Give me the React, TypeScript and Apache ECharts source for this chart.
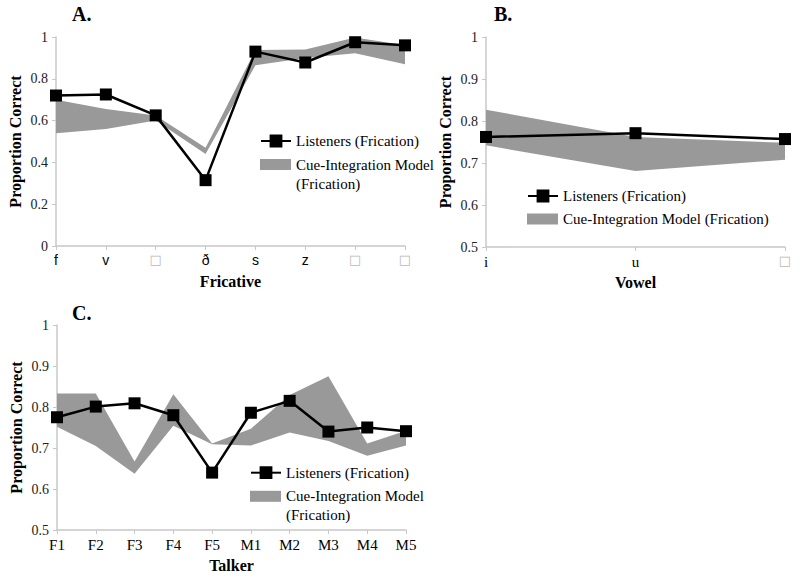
import React, { useEffect, useRef } from 'react';
import * as echarts from 'echarts';

// ---------- Data ----------
const fricatives = ['f', 'v', '□', 'ð', 's', 'z', '□', '□'];
const fricListeners = [0.72, 0.725, 0.625, 0.315, 0.93, 0.878, 0.975, 0.96];
const fricModelLow = [0.54, 0.56, 0.6, 0.44, 0.865, 0.9, 0.922, 0.87];
const fricModelHigh = [0.7, 0.655, 0.625, 0.47, 0.938, 0.94, 0.998, 0.96];

const vowels = ['i', 'u', '□'];
const vowelListeners = [0.762, 0.771, 0.757];
const vowelModelLow = [0.742, 0.681, 0.708];
const vowelModelHigh = [0.827, 0.762, 0.748];

const talkers = ['F1', 'F2', 'F3', 'F4', 'F5', 'M1', 'M2', 'M3', 'M4', 'M5'];
const talkerListeners = [0.775, 0.801, 0.809, 0.78, 0.64, 0.786, 0.815, 0.74, 0.75, 0.741];
const talkerModelLow = [0.752, 0.705, 0.637, 0.754, 0.709, 0.706, 0.738, 0.717, 0.681, 0.706];
const talkerModelHigh = [0.833, 0.833, 0.667, 0.831, 0.711, 0.747, 0.829, 0.875, 0.711, 0.742];

const panelTitles = ['A.', 'B.', 'C.'];
const xNames = ['Fricative', 'Vowel', 'Talker'];
const yName = 'Proportion Correct';
const listenersName = 'Listeners (Frication)';
const modelName = 'Cue-Integration Model (Frication)';

// ---------- Styles ----------
const SERIF = "'Liberation Serif', 'Times New Roman', serif";
const SANS = "'Liberation Sans', Arial, sans-serif";
const AXIS_COLOR = '#c8c8c8';
const BAND_COLOR = '#999999';

function xAxis(idx: number, data: string[], name: string, sans: boolean) {
  return {
    type: 'category',
    gridIndex: idx,
    data,
    boundaryGap: false,
    axisLine: { show: true, lineStyle: { color: AXIS_COLOR, width: 1.5 } },
    axisTick: { show: true, length: 4, interval: 0, lineStyle: { color: AXIS_COLOR } },
    axisLabel: {
      interval: 0,
      margin: 7,
      fontSize: sans ? 14 : 15,
      color: '#000',
      fontFamily: sans ? SANS : SERIF,
      formatter: (v: string) => (v === '□' ? '{box|□}' : v),
      rich: { box: { color: '#b8b8b8', fontFamily: "'DejaVu Sans'", fontSize: 13 } },
    },
    name,
    nameLocation: 'middle',
    nameGap: 27,
    nameTextStyle: { fontWeight: 'bold', fontSize: 16, fontFamily: SERIF, color: '#000' },
  };
}

function yAxis(idx: number, min: number, max: number, interval: number) {
  return {
    type: 'value',
    gridIndex: idx,
    min,
    max,
    interval,
    axisLine: { show: true, lineStyle: { color: AXIS_COLOR, width: 1.5 } },
    axisTick: { show: true, length: 4, lineStyle: { color: AXIS_COLOR } },
    splitLine: { show: false },
    axisLabel: { margin: 8, fontSize: 14, color: '#222', fontFamily: SERIF },
    name: yName,
    nameLocation: 'middle',
    nameGap: 33,
    nameTextStyle: { fontWeight: 'bold', fontSize: 16, fontFamily: SERIF, color: '#000' },
  };
}

function bandSeries(idx: number, low: number[], high: number[]) {
  return [
    {
      type: 'line',
      name: '_low' + idx,
      xAxisIndex: idx,
      yAxisIndex: idx,
      data: low,
      stack: 'band' + idx,
      symbol: 'none',
      silent: true,
      lineStyle: { opacity: 0 },
      z: 1,
    },
    {
      type: 'line',
      name: modelName,
      xAxisIndex: idx,
      yAxisIndex: idx,
      data: high.map((h, i) => +(h - low[i]).toFixed(4)),
      stack: 'band' + idx,
      symbol: 'none',
      silent: true,
      lineStyle: { opacity: 0, color: BAND_COLOR },
      itemStyle: { color: BAND_COLOR },
      areaStyle: { color: BAND_COLOR, opacity: 1 },
      z: 1,
    },
  ];
}

function listenerSeries(idx: number, data: number[]) {
  return {
    type: 'line',
    name: listenersName,
    xAxisIndex: idx,
    yAxisIndex: idx,
    data,
    symbol: 'rect',
    symbolSize: 12,
    lineStyle: { color: '#000', width: 2.5 },
    itemStyle: { color: '#000' },
    z: 3,
  };
}

const legendText = { fontFamily: SERIF, fontSize: 15, color: '#000', lineHeight: 19 };

function lineLegend(left: number, centerY: number) {
  return {
    left,
    top: centerY - 9.5,
    padding: 0,
    selectedMode: false,
    itemWidth: 30,
    itemHeight: 16,
    data: [listenersName],
    textStyle: legendText,
  };
}

function bandLegend(left: number, centerY: number, twoLines: boolean) {
  return {
    left,
    top: centerY - (twoLines ? 28.5 : 9.5),
    padding: 0,
    selectedMode: false,
    itemWidth: 31,
    itemHeight: 11,
    data: [{ name: modelName, icon: 'rect' }],
    formatter: (n: string) =>
      twoLines ? ' \n' + n.replace(' (Frication)', '\n(Frication)') : n,
    textStyle: legendText,
  };
}

function buildOption() {
  const titleStyle = { fontFamily: SERIF, fontSize: 20, fontWeight: 'bold', color: '#000' };
  return {
    animation: false,
    backgroundColor: '#fff',
    title: [
      { text: panelTitles[0], left: 72, top: 4, padding: 0, textStyle: titleStyle },
      { text: panelTitles[1], left: 494, top: 4, padding: 0, textStyle: titleStyle },
      { text: panelTitles[2], left: 72, top: 303, padding: 0, textStyle: titleStyle },
    ],
    grid: [
      { left: 56, top: 37, width: 349, height: 209 },
      { left: 486, top: 37, width: 299, height: 210 },
      { left: 57, top: 325, width: 349, height: 205 },
    ],
    xAxis: [
      xAxis(0, fricatives, xNames[0], true),
      xAxis(1, vowels, xNames[1], false),
      xAxis(2, talkers, xNames[2], false),
    ],
    yAxis: [yAxis(0, 0, 1, 0.2), yAxis(1, 0.5, 1, 0.1), yAxis(2, 0.5, 1, 0.1)],
    legend: [
      lineLegend(260, 141),
      bandLegend(260, 164.5, true),
      lineLegend(527, 196),
      bandLegend(527, 219, false),
      lineLegend(250, 472.7),
      bandLegend(250, 496.3, true),
    ],
    series: [
      ...bandSeries(0, fricModelLow, fricModelHigh),
      listenerSeries(0, fricListeners),
      ...bandSeries(1, vowelModelLow, vowelModelHigh),
      listenerSeries(1, vowelListeners),
      ...bandSeries(2, talkerModelLow, talkerModelHigh),
      listenerSeries(2, talkerListeners),
    ],
  };
}

export default function App() {
  const ref = useRef<HTMLDivElement>(null);
  useEffect(() => {
    const chart = echarts.init(ref.current!, null, { renderer: 'svg' });
    chart.setOption(buildOption() as any);
    return () => chart.dispose();
  }, []);
  return (
    <div
      ref={ref}
      style={{ position: 'absolute', left: 0, top: 0, width: 800, height: 580, background: '#fff' }}
    />
  );
}
